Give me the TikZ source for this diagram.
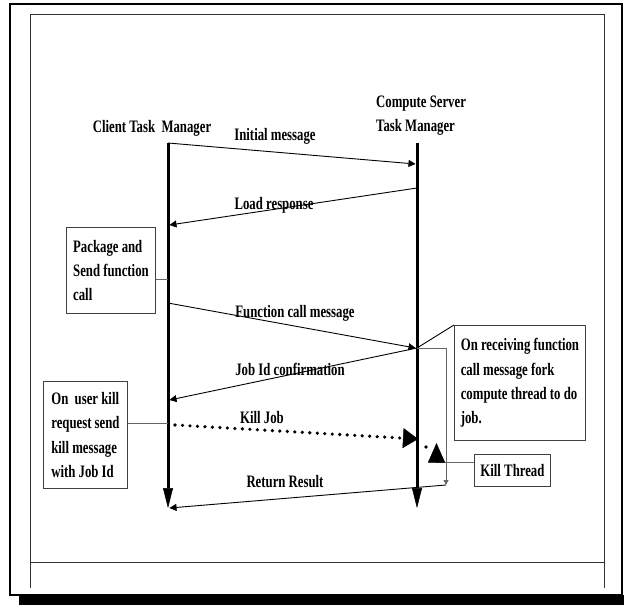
\documentclass[tikz,border=0pt]{standalone}
\usepackage{fontspec}
\newfontfamily\diafont{Liberation Serif}[FakeStretch=0.73]
\usetikzlibrary{arrows.meta}

\begin{document}
\begin{tikzpicture}[
                x=1pt, y=-1pt,
                font=\diafont\bfseries\fontsize{17.5}{24.3}\selectfont,
                block/.style={draw=black!75, line width=0.9pt, fill=white, align=left, inner sep=0pt, anchor=north west},
                lbl/.style={inner sep=0pt},
                lifeline/.style={line width=3pt, -{Triangle[length=20pt,width=10pt,line width=0.5pt]}},
                msg/.style={line width=0.9pt, -{Triangle[length=7pt,width=7pt,line width=0.5pt]}},
                link/.style={draw=black!60, line width=0.9pt},
                killmsg/.style={line width=3.6pt, line cap=round, dash pattern=on 0pt off 7.5pt, -{Triangle[length=15pt,width=20pt,line width=0.5pt]}}
            ]
                \useasboundingbox (0,0) rectangle (624,605);
                % frame
                \draw[line width=2.2pt] (10,4) rectangle (622,595);
                \fill (19,595) rectangle (624,605);
                \draw[line width=1pt, black!80] (30,588) -- (30,14) -- (604,14) -- (604,588);
                \draw[line width=1pt, black!80] (30,562) -- (604,562);

                % lifelines
                \node[lbl] (client) at (152,128) {Client Task~~Manager};
                \node[lbl, align=left, anchor=west] (server) at (376,115.5) {Compute Server\\Task Manager};
                \coordinate (ctop) at (168,143);
                \coordinate (cbot) at (168,508);
                \coordinate (stop) at (417,143);
                \coordinate (sbot) at (417,508);
                \draw[lifeline] (ctop) -- (cbot);
                \draw[lifeline] (stop) -- (sbot);

                \coordinate (initend) at (415.5,164);
                \coordinate (loadstart) at (417,188);
                \coordinate (loadend) at (169.5,225);
                \coordinate (funcstart) at (168,303);
                \coordinate (funcend) at (415.5,348);
                \coordinate (fork) at (417,348);
                \coordinate (jobend) at (169.5,400);
                \coordinate (killstart) at (175,425);
                \coordinate (killend) at (418,439);
                \coordinate (bend) at (446,348);
                \coordinate (ret) at (446,485);
                \coordinate (retend) at (169.5,508);
                \coordinate (packlink) at (168,279);
                \coordinate (killlink) at (168,423);
                \coordinate (kt) at (436.5,462.5);
                \coordinate (ktip) at (436.5,443);

                % boxes
                \node[block, minimum width=89pt, minimum height=86pt] (pack) at (66,227) {Package and\\Send function\\call};
                \node[block, minimum width=131pt, minimum height=115pt] (recv) at (454,325) {On receiving function\\call message fork\\compute thread to do\\job.};
                \node[block, minimum width=84pt, minimum height=107pt] (killreq) at (43,381) {On~ user kill\\request send\\kill message\\with Job Id};
                \node[block, align=center, minimum width=76pt, minimum height=32pt] (kthread) at (474,454) {Kill Thread};

                % messages
                \draw[msg] (ctop) -- (initend);
                \node[lbl] (initmsg) at (275,136) {Initial message};
                \draw[msg] (loadstart) -- (loadend);
                \node[lbl] (loadmsg) at (274,205) {Load response};
                \draw[msg] (funcstart) -- (funcend);
                \node[lbl] (funcmsg) at (295,313) {Function call message};
                \draw[msg] (fork) -- (jobend);
                \node[lbl] (jobmsg) at (290,369) {Job Id confirmation};
                \draw[killmsg] (killstart) -- (killend);
                \node[lbl] (killjob) at (262,418) {Kill Job};
                \draw[msg] (ret) -- (retend);
                \node[lbl] (retmsg) at (285,482) {Return Result};

                % links
                \draw[link] (packlink -| pack.east) -- (packlink);
                \draw[link] (killlink -| killreq.east) -- (killlink);
                \draw[line width=0.9pt] (fork) -- (recv.north west);
                \draw[link, -{Triangle[length=5pt,width=5pt]}] (fork) -- (bend) -- (ret);
                \draw[link] (kt -| kthread.west) -- (kt);
                \draw[line width=0.5pt, -{Triangle[length=19.5pt,width=17pt]}] (kt) -- (ktip);
                \fill (426,447) circle (1.8pt);
            \end{tikzpicture}
\end{document}
